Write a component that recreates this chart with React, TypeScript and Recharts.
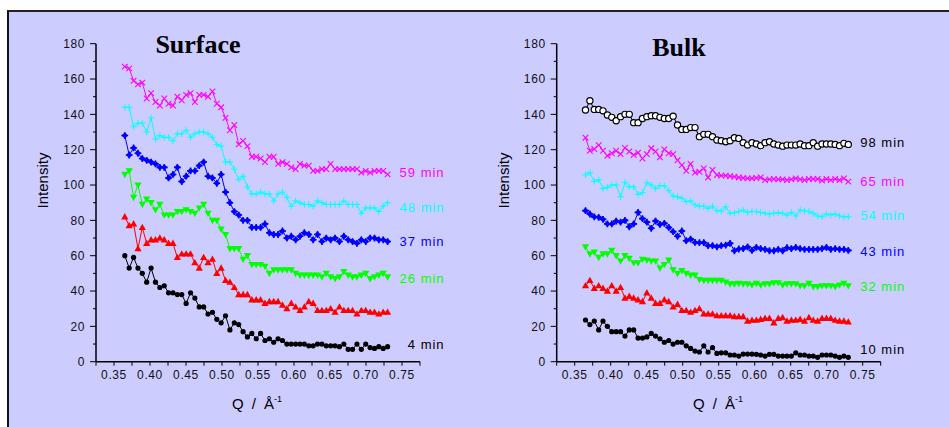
import React from "react";
import { LineChart, Line, XAxis, YAxis, ReferenceDot } from "recharts";

const FONT = "'Liberation Sans', Arial, Helvetica, sans-serif";
const SERIF = "'Liberation Serif', 'Times New Roman', serif";

// Scattering vector Q (1/Å)
const Q = [
  0.365, 0.3711, 0.3772, 0.3833, 0.3893, 0.3954, 0.4015, 0.4076, 0.4137, 0.4198,
  0.4258, 0.4319, 0.438, 0.4441, 0.4502, 0.4563, 0.4623, 0.4684, 0.4745, 0.4806,
  0.4867, 0.4928, 0.4988, 0.5049, 0.511, 0.5171, 0.5232, 0.5293, 0.5353, 0.5414,
  0.5475, 0.5536, 0.5597, 0.5658, 0.5718, 0.5779, 0.584, 0.5901, 0.5962, 0.6023,
  0.6083, 0.6144, 0.6205, 0.6266, 0.6327, 0.6388, 0.6448, 0.6509, 0.657, 0.6631,
  0.6692, 0.6753, 0.6813, 0.6874, 0.6935, 0.6996, 0.7057, 0.7118, 0.7178, 0.7239,
  0.73,
];

// Surface panel
const surface4 = [
  60, 53, 59, 53, 50, 45, 53, 45, 42, 43, 39, 39, 38, 38, 33, 39, 36, 31, 31, 27,
  28, 24, 22, 26, 18, 22, 21, 17, 14, 16, 13, 16, 12, 13, 11, 13, 12, 10, 10, 10,
  10, 10, 9, 9, 10, 10, 9, 9, 9, 8.5, 10, 7, 7, 10, 7, 10, 8, 7.5, 8.5, 7.5, 8.5,
];
const surfaceRed = [
  82, 77, 78, 64, 76, 67, 69, 69, 70, 69, 67, 67, 59, 61, 61, 61, 56, 53, 59, 56,
  58, 50, 53, 46, 45, 42, 38, 38, 38, 35, 35, 35, 33, 34, 34, 34, 32, 30, 33, 31,
  29, 31, 34, 33, 29, 29, 29, 30, 28, 31, 29, 29, 29, 27, 29, 29, 28, 28, 27, 28, 28,
];
const surface26 = [
  106, 108, 93, 100, 89, 92, 90, 86, 89, 83, 83, 83, 85, 85, 86, 85, 84, 87, 89, 84,
  80, 80, 75, 72, 64, 64, 64, 58, 60, 55, 55, 55, 54, 50, 52, 52, 52, 52, 52, 50,
  49, 49, 49, 49, 49, 48, 50, 48, 47, 48, 51, 49, 48, 48, 49, 50, 47, 48, 49, 50, 48,
];
const surface37 = [
  128, 117, 121, 118, 115, 114, 113, 112, 110, 110, 104, 106, 110, 102, 105, 108, 108, 111, 113, 105,
  104, 101, 106, 96, 90, 85, 83, 80, 80, 76, 76, 76, 78, 73, 72, 72, 74, 70, 71, 69,
  71, 73, 72, 69, 72, 68, 70, 69, 70, 68, 71, 69, 68, 67, 69, 68, 70, 70, 69, 69, 68,
];
const surface48 = [
  144, 144, 133, 135, 135, 130, 138, 126, 128, 127, 127, 125, 129, 129, 131, 127, 129, 130, 130, 129,
  127, 123, 122, 113, 113, 109, 103, 105, 99, 95, 95, 96, 95, 95, 91, 95, 96, 93, 88, 91,
  90, 89, 89, 88, 91, 90, 89, 89, 89, 89, 91, 89, 89, 89, 84, 87, 87, 87, 85, 88, 90,
];
const surface59 = [
  167, 166, 159, 157, 158, 149, 152, 147, 145, 149, 146, 145, 150, 148, 151, 152, 147, 151, 151, 150,
  153, 146, 144, 138, 131, 134, 123, 125, 122, 116, 116, 115, 113, 116, 116, 112, 113, 112, 110, 109,
  112, 111, 111, 108, 108, 109, 109, 112, 109, 109, 109, 109, 109, 109, 107, 108, 107, 108, 108, 108, 106,
];

// Bulk panel
const bulk10 = [
  23.6, 21, 23, 18, 23, 20, 17, 17, 17, 14.5, 18, 18, 13.4, 13.4, 14, 16, 14.5, 13, 11, 12,
  10, 11, 11, 9, 7.5, 6, 5.5, 9, 5.5, 8, 4.7, 5, 5, 3.8, 3.8, 3.2, 4.3, 4.3, 4.3, 4.2,
  3.8, 3.2, 4.2, 4.2, 3.2, 3.2, 3.2, 3.2, 5, 3.8, 3.8, 3.2, 3.2, 2.5, 3.8, 3.8, 3.8, 3.2, 2.5, 3.2, 2.5,
];
const bulkRed = [
  43, 46, 41.5, 43, 41.5, 40, 43, 40, 42, 36, 37, 36, 35, 34, 39, 36, 33, 33, 35, 34,
  31, 32.5, 29, 29, 28, 29, 30, 27, 27, 27, 26, 26, 26, 26, 25.5, 25.5, 25.5, 23, 23.5, 23.5,
  24, 24.5, 24.5, 22, 24.5, 25, 23, 23.5, 23.5, 24, 23, 25, 23.5, 23, 24.5, 24.5, 24.5, 23.5, 23, 23, 22.5,
];
const bulk32 = [
  65, 61, 62, 59, 61, 61, 63, 60, 57, 60, 58.5, 56, 56, 58, 57.5, 57, 57, 53, 55, 57.5,
  52, 50, 51.5, 50, 49, 49, 46.5, 46, 46, 46, 46, 46, 45, 44, 44, 44.3, 44, 44, 43.4, 44.3,
  43.4, 44, 44, 44.7, 44.7, 43.4, 44, 44, 44, 43, 43, 44.3, 42.5, 42.5, 43, 43, 43, 42.5, 43.4, 44.3, 43,
];
const bulk43 = [
  85.5, 83.6, 82, 81.7, 80.6, 78, 78, 79.6, 79, 80, 76.4, 78, 84.5, 81, 79, 75.5, 79.6, 77.7, 78.3, 76,
  73.6, 71, 74, 68.5, 69.4, 67.5, 67.4, 67.4, 65.7, 65.7, 65, 65.7, 66, 67, 62.8, 63.8, 64, 65, 63, 64.7,
  64, 63.6, 62.8, 62.8, 63.6, 62.8, 64.5, 64, 64.7, 64, 63.6, 63.6, 63.6, 63.6, 64, 64.7, 63.6, 64, 63.6, 63.6, 63,
];
const bulk54 = [
  105.7, 107, 102, 103, 98, 98.7, 100, 100, 93.4, 101.5, 99, 99, 94.7, 95.7, 101.3, 100, 98, 99.6, 99.6, 96.8,
  93.8, 93.4, 92.5, 90.6, 91, 88.7, 88, 88, 86.8, 88, 85.5, 85.3, 87.7, 84, 84.3, 85, 85.8, 84.5, 85, 85,
  84.5, 84, 83.6, 84, 84.3, 84, 83, 84.5, 82.5, 85.8, 85.3, 85, 84, 82.5, 82, 83.6, 83, 83.6, 82.5, 82, 82,
];
const bulk65 = [
  126.8, 119.4, 120.4, 122.6, 119.4, 116.6, 118, 119.4, 117.5, 121, 119, 117, 118.3, 115, 117.5, 120.8, 119, 115.7, 120.2, 118,
  117.5, 114, 111.3, 108, 112, 107, 107.5, 109.4, 104.3, 108.5, 105.7, 105.3, 105.3, 105, 104.7, 104.3, 104, 103.8, 103.8, 104,
  104.3, 102.8, 103.2, 103.4, 103.2, 103.2, 102.8, 103.2, 103.8, 103.2, 102.8, 103.4, 103.4, 103.4, 102.5, 103.4, 102.8, 103.4, 102.8, 103.8, 101.9,
];
const bulk98 = [
  142.5, 147.7, 142.8, 142.8, 142, 139.6, 138.3, 136.4, 138.7, 140, 140, 135.3, 135.3, 137.7, 138.7, 139.2, 139.2, 138.3, 137.7, 137.7,
  139, 134, 131.5, 131.5, 132.5, 132.5, 127.4, 128.7, 128.7, 127.4, 125.5, 125.1, 124.5, 125.1, 126.8, 126.4, 124, 122.6, 124, 123.2,
  122.3, 124, 124.5, 123.2, 122.6, 122, 122.6, 122.6, 122.6, 123.2, 122.3, 122.3, 124, 122, 123.2, 123.2, 123.2, 123, 122.3, 123.6, 123,
];

// Ticks
const xTicks = [0.325, 0.35, 0.375, 0.4, 0.425, 0.45, 0.475, 0.5, 0.525, 0.55, 0.575, 0.6, 0.625, 0.65, 0.675, 0.7, 0.725, 0.75, 0.775];
const yTicks = [0, 10, 20, 30, 40, 50, 60, 70, 80, 90, 100, 110, 120, 130, 140, 150, 160, 170, 180];

// Series label texts and the intensity level where each text sits
const surfaceLabelText = ["59 min", "48 min", "37 min", "26 min", "4 min"];
const surfaceLabelAt = [107, 87.5, 68, 47, 9.5];
const bulkLabelText = ["98 min", "65 min", "54 min", "43 min", "32 min", "10 min"];
const bulkLabelAt = [124.2, 102, 82.6, 62.3, 42.4, 7.2];

type Kind = "circle" | "up" | "down" | "star" | "plus" | "x" | "open";
type Series = { key: string; values: number[]; color: string; kind: Kind };

const surfaceSeries: Series[] = [
  { key: "s4", values: surface4, color: "#000000", kind: "circle" },
  { key: "sR", values: surfaceRed, color: "#ff0000", kind: "up" },
  { key: "s26", values: surface26, color: "#00ff00", kind: "down" },
  { key: "s37", values: surface37, color: "#0000ff", kind: "star" },
  { key: "s48", values: surface48, color: "#00ffff", kind: "plus" },
  { key: "s59", values: surface59, color: "#ff00ff", kind: "x" },
];
const surfaceLabelColors = ["#ff00ff", "#00ffff", "#0000ff", "#00ff00", "#000000"];

const bulkSeries: Series[] = [
  { key: "b10", values: bulk10, color: "#000000", kind: "circle" },
  { key: "bR", values: bulkRed, color: "#ff0000", kind: "up" },
  { key: "b32", values: bulk32, color: "#00ff00", kind: "down" },
  { key: "b43", values: bulk43, color: "#0000ff", kind: "star" },
  { key: "b54", values: bulk54, color: "#00ffff", kind: "plus" },
  { key: "b65", values: bulk65, color: "#ff00ff", kind: "x" },
  { key: "b98", values: bulk98, color: "#000000", kind: "open" },
];
const bulkLabelColors = ["#000000", "#ff00ff", "#00ffff", "#0000ff", "#00ff00", "#000000"];

function buildRows(series: Series[]) {
  return Q.map((q, i) => {
    const row: Record<string, number> = { q };
    series.forEach((s) => {
      row[s.key] = s.values[i];
    });
    return row;
  });
}

function Marker({ cx, cy, kind, color }: { cx?: number; cy?: number; kind: Kind; color: string }) {
  if (cx == null || cy == null || isNaN(cx) || isNaN(cy)) return null;
  switch (kind) {
    case "circle":
      return <circle cx={cx} cy={cy} r={2.6} fill={color} />;
    case "open":
      return <circle cx={cx} cy={cy} r={3.1} fill="#ffffff" stroke="#000000" strokeWidth={1.2} />;
    case "up":
      return (
        <polygon
          points={`${cx},${cy - 3.8} ${cx + 3.6},${cy + 2.6} ${cx - 3.6},${cy + 2.6}`}
          fill={color}
        />
      );
    case "down":
      return (
        <polygon
          points={`${cx},${cy + 3.8} ${cx + 3.6},${cy - 2.6} ${cx - 3.6},${cy - 2.6}`}
          fill={color}
        />
      );
    case "star":
      return (
        <g>
          <polygon
            points={`${cx},${cy - 3.2} ${cx + 3.2},${cy} ${cx},${cy + 3.2} ${cx - 3.2},${cy}`}
            fill={color}
          />
          <path
            d={`M${cx - 3.4},${cy}H${cx + 3.4}M${cx},${cy - 3.4}V${cy + 3.4}`}
            stroke={color}
            strokeWidth={1.6}
          />
        </g>
      );
    case "plus":
      return (
        <path
          d={`M${cx - 3.2},${cy}H${cx + 3.2}M${cx},${cy - 3.2}V${cy + 3.2}`}
          stroke={color}
          strokeWidth={1}
          fill="none"
        />
      );
    case "x":
      return (
        <path
          d={`M${cx - 2.8},${cy - 2.8}L${cx + 2.8},${cy + 2.8}M${cx + 2.8},${cy - 2.8}L${cx - 2.8},${cy + 2.8}`}
          stroke={color}
          strokeWidth={1.1}
          fill="none"
        />
      );
    default:
      return null;
  }
}

function YTick(props: any) {
  const { x, y, payload } = props;
  const v = payload.value as number;
  const major = v % 20 === 0;
  return (
    <g>
      <line x1={x - (major ? 6 : 3)} x2={x} y1={y} y2={y} stroke="#000" strokeWidth={1} />
      {major && (
        <text
          x={x - 11}
          y={y}
          dy="0.35em"
          textAnchor="end"
          fontSize={12}
          fontFamily={FONT}
          fill="#111"
          letterSpacing={0.6}
        >
          {v}
        </text>
      )}
    </g>
  );
}

function fmtX(v: number) {
  const k = Math.round(v * 1000);
  return k % 50 === 0 ? v.toFixed(2) : "";
}

function Panel({
  series,
  labelText,
  labelAt,
  labelColors,
  marginLeft,
  marginRight,
}: {
  series: Series[];
  labelText: string[];
  labelAt: number[];
  labelColors: string[];
  marginLeft: number;
  marginRight: number;
}) {
  const rows = buildRows(series);
  const lastQ = Q[Q.length - 1];
  return (
    <LineChart
      width={470}
      height={427}
      data={rows}
      margin={{ top: 43.7, right: marginRight, bottom: 35.3, left: marginLeft }}
      style={{ overflow: "visible" }}
    >
      <XAxis
        type="number"
        dataKey="q"
        domain={[0.325, 0.775]}
        ticks={xTicks}
        interval={0}
        tickFormatter={fmtX}
        tickSize={4}
        tickMargin={5}
        height={30}
        allowDataOverflow
        axisLine={{ stroke: "#000", strokeWidth: 1.5 }}
        tickLine={{ stroke: "#000" }}
        tick={{ fill: "#111", fontSize: 12, fontFamily: FONT, letterSpacing: 0.6 }}
      />
      <YAxis
        type="number"
        domain={[0, 180]}
        ticks={yTicks}
        interval={0}
        tickSize={0}
        tickMargin={0}
        width={50}
        allowDataOverflow
        axisLine={{ stroke: "#000", strokeWidth: 1.5 }}
        tickLine={false}
        tick={<YTick />}
      />
      {series.map((s) => (
        <Line
          key={s.key}
          type="linear"
          dataKey={s.key}
          stroke={s.color}
          strokeWidth={1}
          isAnimationActive={false}
          activeDot={false}
          dot={(p: any) => (
            <Marker key={`${s.key}-${p.index}`} cx={p.cx} cy={p.cy} kind={s.kind} color={s.color} />
          )}
        />
      ))}
      {labelText.map((t, i) => (
        <ReferenceDot
          key={t}
          x={lastQ}
          y={labelAt[i]}
          r={0}
          ifOverflow="visible"
          shape={(p: any) => (
            <text
              x={p.cx + 57}
              y={p.cy}
              dy="0.35em"
              textAnchor="end"
              fontSize={13}
              fontFamily={FONT}
              letterSpacing={1}
              fill={labelColors[i]}
            >
              {t}
            </text>
          )}
        />
      ))}
    </LineChart>
  );
}

export default function App() {
  return (
    <div
      style={{
        position: "fixed",
        left: 0,
        top: 0,
        width: 949,
        height: 427,
        background: "#ffffff",
        overflow: "hidden",
        fontFamily: FONT,
      }}
    >
      <div
        style={{
          position: "absolute",
          left: 7,
          top: 10,
          width: 942,
          height: 430,
          background: "#ccccff",
          borderTop: "2px solid #222",
          borderLeft: "2px solid #111",
          boxSizing: "border-box",
        }}
      />
      <div style={{ position: "absolute", left: 0, top: 0 }}>
        <Panel
          series={surfaceSeries}
          labelText={surfaceLabelText}
          labelAt={surfaceLabelAt}
          labelColors={surfaceLabelColors}
          marginLeft={46}
          marginRight={50}
        />
      </div>
      <div style={{ position: "absolute", left: 470, top: 0 }}>
        <Panel
          series={bulkSeries}
          labelText={bulkLabelText}
          labelAt={bulkLabelAt}
          labelColors={bulkLabelColors}
          marginLeft={36.7}
          marginRight={59.3}
        />
      </div>
      <svg
        width={949}
        height={427}
        style={{ position: "absolute", left: 0, top: 0, pointerEvents: "none" }}
      >
        <text x={198} y={53} textAnchor="middle" fontFamily={SERIF} fontWeight="bold" fontSize={26} fill="#000">
          Surface
        </text>
        <text x={679} y={56} textAnchor="middle" fontFamily={SERIF} fontWeight="bold" fontSize={26} fill="#000">
          Bulk
        </text>
        <text
          transform="translate(43,180.5) rotate(-90)"
          textAnchor="middle"
          dy="0.35em"
          fontSize={15}
          fontFamily={FONT}
          fill="#000"
        >
          Intensity
        </text>
        <text
          transform="translate(503.5,180.5) rotate(-90)"
          textAnchor="middle"
          dy="0.35em"
          fontSize={15}
          fontFamily={FONT}
          fill="#000"
        >
          Intensity
        </text>
        <text x={257} y={408.5} textAnchor="middle" fontSize={15} fontFamily={FONT} fill="#000" wordSpacing={4}>
          Q / Å
          <tspan dy={-7} fontSize={9}>
            -1
          </tspan>
        </text>
        <text x={718} y={408.5} textAnchor="middle" fontSize={15} fontFamily={FONT} fill="#000" wordSpacing={4}>
          Q / Å
          <tspan dy={-7} fontSize={9}>
            -1
          </tspan>
        </text>
      </svg>
    </div>
  );
}
